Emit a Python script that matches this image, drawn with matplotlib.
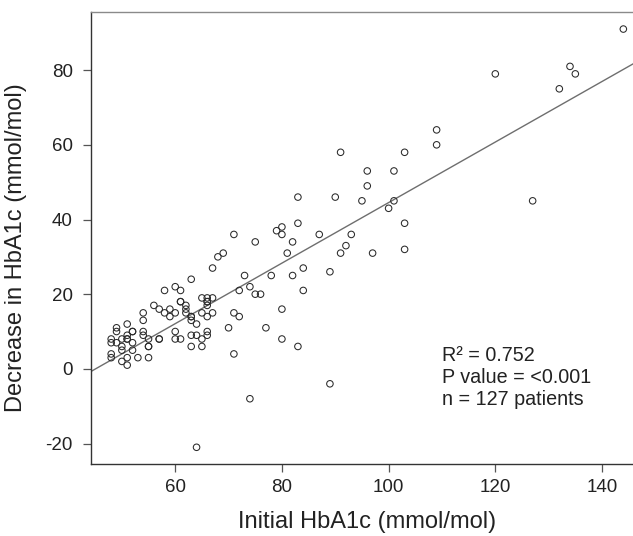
import matplotlib
matplotlib.use("Agg")
import matplotlib.pyplot as plt
import numpy as np

plt.rcParams['font.family'] = ['Liberation Sans', 'DejaVu Sans']
plt.rcParams['axes.unicode_minus'] = False

# initial HbA1c (x) and decrease in HbA1c (y), mmol/mol
initial_hba1c = [
    144, 120, 134, 135, 132, 127, 109, 109, 91, 103,
    96, 101, 96, 95, 101, 100, 83, 90, 83, 103,
    80, 79, 80, 71, 87, 93, 75, 82, 92, 103,
    81, 91, 97, 69, 68, 67, 84, 89, 73, 78,
    82, 63, 74, 60, 72, 84, 58, 61, 75, 76,
    65, 66, 67, 61, 66, 56, 62, 66, 57, 59,
    62, 80, 54, 58, 60, 62, 65, 67, 71, 59,
    63, 66, 72, 54, 63, 64, 51, 49, 70, 77,
    49, 52, 54, 60, 66, 51, 54, 63, 64, 66,
    48, 50, 51, 55, 57, 60, 61, 65, 80, 48,
    49, 52, 50, 55, 63, 65, 83, 50, 52, 48,
    71, 48, 51, 53, 55, 50, 51, 89, 74, 64,
    52, 61, 57, 55, 66, 63, 51,
]
decrease_hba1c = [
    91, 79, 81, 79, 75, 45, 64, 60, 58, 58,
    53, 53, 49, 45, 45, 43, 46, 46, 39, 39,
    38, 37, 36, 36, 36, 36, 34, 34, 33, 32,
    31, 31, 31, 31, 30, 27, 27, 26, 25, 25,
    25, 24, 22, 22, 21, 21, 21, 21, 20, 20,
    19, 19, 19, 18, 18, 17, 17, 17, 16, 16,
    16, 16, 15, 15, 15, 15, 15, 15, 15, 14,
    14, 14, 14, 13, 13, 12, 12, 11, 11, 11,
    10, 10, 10, 10, 10, 9, 9, 9, 9, 9,
    8, 8, 8, 8, 8, 8, 8, 8, 8, 7,
    7, 7, 6, 6, 6, 6, 6, 5, 5, 4,
    4, 3, 3, 3, 3, 2, 1, -4, -8, -21,
    10, 18, 8, 6, 18, 14, 8,
]

stats_text = "R\u00b2 = 0.752\nP value = <0.001\nn = 127 patients"

x = np.array(initial_hba1c, dtype=float)
y = np.array(decrease_hba1c, dtype=float)
slope, intercept = np.polyfit(x, y, 1)

fig = plt.figure(figsize=(6.33, 5.36), dpi=100)
# right edge of the frame runs past the figure, the original is cropped there
ax = fig.add_axes([0.1433, 0.1343, 0.8738, 0.8427])

ax.scatter(x, y, s=22, facecolors='none', edgecolors='#2a2a2a', linewidths=0.75, zorder=3)

x0 = min(x) - 0.04 * (max(x) - min(x))
x1 = max(x) + 0.04 * (max(x) - min(x))
y0 = min(y) - 0.04 * (max(y) - min(y))
y1 = max(y) + 0.04 * (max(y) - min(y))
xs = np.array([x0, x1])
ax.plot(xs, slope * xs + intercept, color='#6e6e6e', lw=1.0, zorder=2)

ax.set_xlim(x0, x1)
ax.set_ylim(y0, y1)
ax.set_xticks([60, 80, 100, 120, 140])
ax.set_yticks([-20, 0, 20, 40, 60, 80])

for side in ['left', 'bottom']:
    ax.spines[side].set_color('#333333')
    ax.spines[side].set_linewidth(1.0)
for side in ['top', 'right']:
    ax.spines[side].set_color('#8a8a8a')
    ax.spines[side].set_linewidth(1.0)

ax.tick_params(axis='both', direction='out', length=6, width=0.9, color='#555555',
               labelsize=13.5, labelcolor='#222222')
ax.tick_params(axis='x', pad=5)
ax.tick_params(axis='y', pad=7)

ax.set_xlabel('Initial HbA1c (mmol/mol)', fontsize=17, color='#222222')
ax.set_ylabel('Decrease in HbA1c (mmol/mol)', fontsize=17, color='#222222')
ax.xaxis.set_label_coords(0.5, -0.103)
ax.yaxis.set_label_coords(-0.115, 0.48)

ax.text(0.636, 0.262, stats_text, transform=ax.transAxes, fontsize=14.2,
        color='#222222', ha='left', va='top', linespacing=1.22)

fig.savefig('out.png', dpi=100)
